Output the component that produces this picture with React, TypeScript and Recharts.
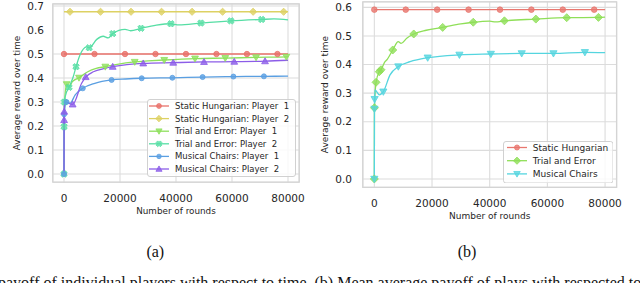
import React from "react";
import { ComposedChart, Line, XAxis, YAxis, CartesianGrid, Legend, ReferenceArea } from "recharts";

// ---- shared ticks ----
const roundTicks = [0, 20000, 40000, 60000, 80000];
const rewardTicksA = [0, 0.1, 0.2, 0.3, 0.4, 0.5, 0.6, 0.7];
const rewardTicksB = [0, 0.1, 0.2, 0.3, 0.4, 0.5, 0.6];

// ---- (a) individual players ----
const shP1Rounds = [0, 10890, 21780, 32670, 43560, 54450, 65340, 76230, 80000];
const shP1Reward = [0.5, 0.5, 0.5, 0.5, 0.5, 0.5, 0.5, 0.5, 0.5];
const shP1Marks = [0, 1, 2, 3, 4, 5, 6, 7];

const shP2Rounds = [0, 2140, 13040, 23940, 34840, 45740, 56640, 67540, 78440, 80000];
const shP2Reward = [0.676, 0.676, 0.676, 0.676, 0.676, 0.676, 0.676, 0.676, 0.676, 0.676];
const shP2Marks = [1, 2, 3, 4, 5, 6, 7, 8];

const teP1Rounds = [0, 200, 960, 1800, 3000, 5360, 8500, 11500, 14750, 19000, 25250, 30000, 35800, 46800, 57600, 68600, 79400, 80000];
const teP1Reward = [0, 0.3, 0.374, 0.362, 0.385, 0.401, 0.426, 0.44, 0.447, 0.457, 0.467, 0.471, 0.475, 0.481, 0.483, 0.486, 0.488, 0.489];
const teP1Marks = [2, 5, 8, 10, 12, 13, 14, 15, 16];

const teP2Rounds = [0, 40, 120, 600, 1800, 3300, 4300, 5700, 8100, 9000, 11700, 14000, 15800, 17400, 21800, 23800, 27500, 33000, 38200, 41000, 48900, 59600, 70600, 75000, 80000];
const teP2Reward = [0, 0.197, 0.3, 0.33, 0.361, 0.405, 0.447, 0.496, 0.53, 0.526, 0.561, 0.574, 0.567, 0.585, 0.603, 0.597, 0.607, 0.62, 0.626, 0.621, 0.629, 0.638, 0.644, 0.646, 0.642];
const teP2Marks = [0, 1, 2, 4, 6, 9, 13, 16, 18, 20, 21, 22];

const mcP1Rounds = [0, 40, 900, 2200, 4000, 6700, 11000, 17000, 22000, 27750, 38700, 49500, 60500, 71400, 80000];
const mcP1Reward = [0, 0.249, 0.3, 0.295, 0.33, 0.357, 0.378, 0.392, 0.396, 0.399, 0.401, 0.404, 0.406, 0.407, 0.408];
const mcP1Marks = [0, 1, 2, 5, 7, 9, 10, 11, 12, 13];

const mcP2Rounds = [0, 40, 80, 150, 3100, 6300, 7750, 10500, 14600, 17400, 28300, 39000, 50000, 60800, 71800, 80000];
const mcP2Reward = [0, 0.225, 0.26, 0.3, 0.29, 0.378, 0.404, 0.426, 0.44, 0.447, 0.461, 0.464, 0.467, 0.468, 0.47, 0.474];
const mcP2Marks = [1, 2, 4, 6, 9, 10, 11, 12, 13, 14];

// ---- (b) mean of plays ----
const shRounds = [0, 10890, 21780, 32670, 43560, 54450, 65340, 76230, 80000];
const shReward = [0.592, 0.592, 0.592, 0.592, 0.592, 0.592, 0.592, 0.592, 0.592];
const shMarks = [0, 1, 2, 3, 4, 5, 6, 7];

const teRounds = [0, 40, 590, 1730, 2320, 3700, 4300, 6380, 8300, 9260, 11230, 13660, 18000, 23700, 30000, 34300, 40000, 42000, 45100, 56000, 66700, 77700, 80000];
const teReward = [0, 0.249, 0.338, 0.375, 0.382, 0.41, 0.416, 0.451, 0.48, 0.474, 0.492, 0.507, 0.52, 0.53, 0.542, 0.548, 0.552, 0.549, 0.553, 0.559, 0.564, 0.565, 0.566];
const teMarks = [0, 1, 2, 3, 4, 7, 11, 13, 15, 18, 19, 20, 21];

const mcRounds = [0, 40, 100, 240, 1730, 3120, 5440, 8320, 12380, 18500, 29500, 40400, 51100, 62100, 73000, 80000];
const mcReward = [0, 0.245, 0.279, 0.311, 0.294, 0.305, 0.364, 0.393, 0.41, 0.424, 0.434, 0.437, 0.439, 0.439, 0.443, 0.442];
const mcMarks = [0, 1, 2, 5, 7, 9, 10, 11, 12, 13, 14];

type Shape = "circle" | "diamond" | "triDown" | "triUp" | "xFilled";

interface Series {
  name: string;
  color: string;
  shape: Shape;
  size: number;
  rounds: number[];
  reward: number[];
  marks: number[];
}

// legend labels keep the wide gap before the player number
const seriesA: Series[] = [
  { name: "Static Hungarian: Player\u00a0 1", color: "#e8716a", shape: "circle", size: 2.7, rounds: shP1Rounds, reward: shP1Reward, marks: shP1Marks },
  { name: "Static Hungarian: Player\u00a0 2", color: "#ddd163", shape: "diamond", size: 3.6, rounds: shP2Rounds, reward: shP2Reward, marks: shP2Marks },
  { name: "Trial and Error: Player\u00a0 1", color: "#8ee05c", shape: "triDown", size: 3.4, rounds: teP1Rounds, reward: teP1Reward, marks: teP1Marks },
  { name: "Trial and Error: Player\u00a0 2", color: "#56dea4", shape: "xFilled", size: 3.3, rounds: teP2Rounds, reward: teP2Reward, marks: teP2Marks },
  { name: "Musical Chairs: Player\u00a0 1", color: "#5a9fe2", shape: "circle", size: 2.5, rounds: mcP1Rounds, reward: mcP1Reward, marks: mcP1Marks },
  { name: "Musical Chairs: Player\u00a0 2", color: "#8c5de8", shape: "triUp", size: 3.4, rounds: mcP2Rounds, reward: mcP2Reward, marks: mcP2Marks },
];

const seriesB: Series[] = [
  { name: "Static Hungarian", color: "#e8776f", shape: "circle", size: 2.8, rounds: shRounds, reward: shReward, marks: shMarks },
  { name: "Trial and Error", color: "#8fdf58", shape: "diamond", size: 4, rounds: teRounds, reward: teReward, marks: teMarks },
  { name: "Musical Chairs", color: "#55d5df", shape: "triDown", size: 3.6, rounds: mcRounds, reward: mcReward, marks: mcMarks },
];

const FONT = "'DejaVu Sans', sans-serif";
const INK = "#262626";
const GRID = "#dcdcdc";

function Marker({ shape, cx, cy, color, size }: { shape: Shape; cx: number; cy: number; color: string; size: number }) {
  const common = { fill: color, fillOpacity: 0.8, stroke: color, strokeWidth: 0.8 };
  const s = size;
  if (shape === "circle") return <circle cx={cx} cy={cy} r={s} {...common} />;
  let pts: number[][];
  if (shape === "diamond") pts = [[0, -s], [s, 0], [0, s], [-s, 0]];
  else if (shape === "triDown") pts = [[-s, -s * 0.75], [s, -s * 0.75], [0, s]];
  else if (shape === "triUp") pts = [[-s, s * 0.75], [s, s * 0.75], [0, -s]];
  else {
    const a = s * 0.38;
    const plus = [[-a, -s], [a, -s], [a, -a], [s, -a], [s, a], [a, a], [a, s], [-a, s], [-a, a], [-s, a], [-s, -a], [-a, -a]];
    const c = Math.SQRT1_2;
    pts = plus.map(([x, y]) => [x * c - y * c, x * c + y * c]);
  }
  return <polygon points={pts.map(([x, y]) => `${cx + x},${cy + y}`).join(" ")} {...common} />;
}

interface PanelProps {
  series: Series[];
  yDomain: [number, number];
  yTicks: number[];
  margin: { top: number; right: number; bottom: number; left: number };
  yAxisWidth: number;
  xAxisHeight: number;
  xTickMargin: number;
  yTickMargin: number;
  yTitleX: number;
  xTitleY: number;
  titleSize: number;
  legendBox: { left: number; top: number; width: number; height: number };
  legendRows: { first: number; step: number; x1: number; x2: number; mx: number; tx: number; fontSize: number };
}

function Panel(p: PanelProps) {
  const lb = p.legendBox;
  const lr = p.legendRows;

  const legend = () => (
    <svg width={lb.width} height={lb.height} style={{ display: "block" }}>
      <rect x={0.5} y={0.5} width={lb.width - 1} height={lb.height - 1} rx={2.5} fill="#fff" fillOpacity={0.8} stroke="#cccccc" strokeWidth={0.9} />
      {p.series.map((s, i) => {
        const y = lr.first + i * lr.step;
        return (
          <g key={s.name}>
            <line x1={lr.x1} x2={lr.x2} y1={y} y2={y} stroke={s.color} strokeWidth={1.3} />
            <Marker shape={s.shape} cx={lr.mx} cy={y} color={s.color} size={s.size * 0.9} />
            <text x={lr.tx} y={y} dominantBaseline="central" fontSize={lr.fontSize} fontFamily={FONT} fill={INK}>
              {s.name}
            </text>
          </g>
        );
      })}
    </svg>
  );

  const yTitle = (props: any) => {
    const vb = props.viewBox || { y: p.margin.top, height: 180 };
    const cy = vb.y + vb.height / 2;
    return (
      <text x={p.yTitleX} y={cy} transform={`rotate(-90 ${p.yTitleX} ${cy})`} textAnchor="middle" dominantBaseline="central" fontSize={p.titleSize} fontFamily={FONT} fill={INK}>
        Average reward over time
      </text>
    );
  };

  const xTitle = (props: any) => {
    const vb = props.viewBox || { x: p.yAxisWidth, width: 250 };
    return (
      <text x={vb.x + vb.width / 2} y={p.xTitleY} textAnchor="middle" fontSize={p.titleSize} fontFamily={FONT} fill={INK}>
        Number of rounds
      </text>
    );
  };

  return (
    <ComposedChart width={320} height={240} margin={p.margin}>
      <CartesianGrid stroke={GRID} strokeWidth={1.1} />
      <XAxis
        type="number"
        dataKey="x"
        domain={[-4000, 84000]}
        ticks={roundTicks}
        allowDataOverflow
        height={p.xAxisHeight}
        tickLine={false}
        tickSize={0}
        tickMargin={p.xTickMargin}
        axisLine={false}
        tick={{ fontSize: 10.5, fill: INK, fontFamily: FONT }}
        label={xTitle}
      />
      <YAxis
        type="number"
        domain={p.yDomain}
        ticks={p.yTicks}
        allowDataOverflow
        width={p.yAxisWidth}
        tickLine={false}
        tickSize={0}
        tickMargin={p.yTickMargin}
        axisLine={false}
        tickFormatter={(v: number) => v.toFixed(1)}
        tick={{ fontSize: 10.5, fill: INK, fontFamily: FONT }}
        label={yTitle}
      />
      <ReferenceArea x1={-4000} x2={84000} y1={p.yDomain[0]} y2={p.yDomain[1]} fill="none" stroke="#d4d4d4" strokeWidth={1.3} ifOverflow="visible" />
      {p.series.map((s) => (
        <Line
          key={s.name}
          name={s.name}
          data={s.rounds.map((x, i) => ({ x, y: s.reward[i], mark: s.marks.includes(i) }))}
          dataKey="y"
          type="monotone"
          stroke={s.color}
          strokeWidth={1.3}
          isAnimationActive={false}
          activeDot={false}
          dot={(d: any) =>
            d.payload && d.payload.mark ? (
              <Marker key={`m-${d.index}`} shape={s.shape} cx={d.cx} cy={d.cy} color={s.color} size={s.size} />
            ) : (
              <g key={`m-${d.index}`} />
            )
          }
        />
      ))}
      <Legend
        layout="vertical"
        align="center"
        verticalAlign="middle"
        content={legend}
        wrapperStyle={{ left: lb.left, top: lb.top, width: lb.width, height: lb.height }}
      />
    </ComposedChart>
  );
}

export default function App() {
  return (
    <div style={{ position: "absolute", left: 0, top: 0, width: 640, height: 283, background: "#fff", overflow: "hidden" }}>
      <div style={{ position: "absolute", left: 0, top: 0 }}>
        <Panel
          series={seriesA}
          yDomain={[-0.034, 0.709]}
          yTicks={rewardTicksA}
          margin={{ top: 3.84, right: 20.8, bottom: 0, left: 0 }}
          yAxisWidth={52.8}
          xAxisHeight={57.8}
          xTickMargin={12}
          yTickMargin={8.8}
          yTitleX={17}
          xTitleY={214}
          titleSize={8.8}
          legendBox={{ left: 146.5, top: 99, width: 149, height: 78 }}
          legendRows={{ first: 7, step: 12.6, x1: 2, x2: 22, mx: 12, tx: 28, fontSize: 8.5 }}
        />
      </div>
      <div style={{ position: "absolute", left: 320, top: 0 }}>
        <Panel
          series={seriesB}
          yDomain={[-0.0295, 0.6195]}
          yTicks={rewardTicksB}
          margin={{ top: 1.8, right: 23.4, bottom: 0, left: 0 }}
          yAxisWidth={42.8}
          xAxisHeight={52.6}
          xTickMargin={11.8}
          yTickMargin={10.8}
          yTitleX={5}
          xTitleY={219}
          titleSize={9}
          legendBox={{ left: 182.5, top: 140.5, width: 110.5, height: 42.5 }}
          legendRows={{ first: 6.5, step: 13.2, x1: 4, x2: 24, mx: 14, tx: 29.8, fontSize: 9 }}
        />
      </div>
      <svg width={640} height={283} style={{ position: "absolute", left: 0, top: 0, pointerEvents: "none" }}>
        <g fontFamily="'Liberation Serif', 'Times New Roman', serif" fontSize={16} fill="#111">
          <text x={155.3} y={257} textAnchor="middle">(a)</text>
          <text x={467} y={257} textAnchor="middle">(b)</text>
          <text x={-2} y={287.6}>
            payoff of individual players with respect to time. (b) Mean average payoff of plays with respected to
          </text>
        </g>
      </svg>
    </div>
  );
}
